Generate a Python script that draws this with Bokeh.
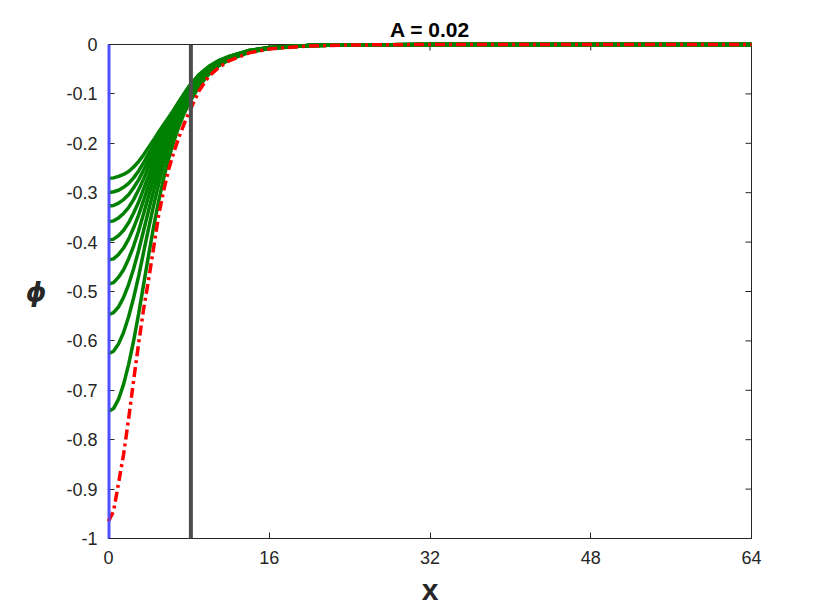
import math
from bokeh.plotting import figure
from bokeh.models import Range1d, FixedTicker, Span
from bokeh.embed import file_html
from bokeh.resources import INLINE

# ---- data ----
x = [0, 0.5, 1, 1.5, 2, 2.5, 3, 3.5, 4, 4.5, 5, 5.5, 6, 6.5, 7, 7.5, 8,
     9, 10, 11, 12, 14, 16, 20, 24, 32, 48, 64]

phi_g1 = [-0.271, -0.270, -0.267, -0.263, -0.257, -0.248, -0.237, -0.223, -0.208, -0.193, -0.177, -0.162, -0.147, -0.132, -0.116, -0.100, -0.085,
          -0.061, -0.044, -0.032, -0.024, -0.012, -0.006, -0.002, -0.001, 0, 0, 0]
phi_g2 = [-0.300, -0.298, -0.295, -0.289, -0.281, -0.270, -0.256, -0.239, -0.221, -0.204, -0.185, -0.169, -0.152, -0.136, -0.119, -0.103, -0.087,
          -0.062, -0.045, -0.033, -0.024, -0.012, -0.006, -0.002, -0.001, 0, 0, 0]
phi_g3 = [-0.327, -0.326, -0.321, -0.314, -0.304, -0.290, -0.274, -0.254, -0.234, -0.214, -0.194, -0.175, -0.157, -0.140, -0.122, -0.105, -0.089,
          -0.064, -0.046, -0.033, -0.025, -0.012, -0.006, -0.002, -0.001, 0, 0, 0]
phi_g4 = [-0.359, -0.357, -0.351, -0.342, -0.330, -0.314, -0.294, -0.272, -0.248, -0.226, -0.203, -0.182, -0.162, -0.144, -0.125, -0.108, -0.091,
          -0.065, -0.047, -0.034, -0.025, -0.013, -0.006, -0.002, -0.001, 0, 0, 0]
phi_g5 = [-0.396, -0.394, -0.387, -0.376, -0.361, -0.341, -0.319, -0.292, -0.266, -0.239, -0.214, -0.191, -0.169, -0.149, -0.129, -0.111, -0.094,
          -0.067, -0.048, -0.035, -0.026, -0.013, -0.007, -0.002, -0.001, 0, 0, 0]
phi_g6 = [-0.436, -0.434, -0.425, -0.412, -0.394, -0.371, -0.345, -0.315, -0.284, -0.254, -0.226, -0.200, -0.176, -0.154, -0.134, -0.114, -0.097,
          -0.069, -0.050, -0.036, -0.027, -0.013, -0.007, -0.002, -0.001, 0, 0, 0]
phi_g7 = [-0.485, -0.482, -0.471, -0.456, -0.434, -0.408, -0.377, -0.342, -0.306, -0.272, -0.240, -0.211, -0.185, -0.161, -0.139, -0.119, -0.100,
          -0.072, -0.051, -0.037, -0.027, -0.014, -0.007, -0.002, -0.001, 0, 0, 0]
phi_g8 = [-0.547, -0.543, -0.531, -0.512, -0.486, -0.454, -0.417, -0.376, -0.335, -0.295, -0.258, -0.225, -0.196, -0.169, -0.145, -0.124, -0.105,
          -0.075, -0.053, -0.038, -0.028, -0.014, -0.007, -0.002, -0.001, 0, 0, 0]
phi_g9 = [-0.626, -0.621, -0.606, -0.583, -0.551, -0.513, -0.469, -0.420, -0.371, -0.325, -0.282, -0.243, -0.209, -0.180, -0.154, -0.131, -0.111,
          -0.079, -0.056, -0.040, -0.029, -0.015, -0.008, -0.002, -0.001, 0, 0, 0]
phi_g10 = [-0.743, -0.737, -0.718, -0.688, -0.648, -0.600, -0.545, -0.485, -0.425, -0.368, -0.316, -0.270, -0.230, -0.196, -0.166, -0.141, -0.119,
           -0.085, -0.060, -0.043, -0.031, -0.016, -0.008, -0.002, -0.001, 0, 0, 0]
phi_red = [-0.965, -0.945, -0.888, -0.830, -0.758, -0.680, -0.605, -0.535, -0.475, -0.410, -0.345, -0.295, -0.252, -0.218, -0.188, -0.162, -0.138,
           -0.094, -0.064, -0.046, -0.033, -0.017, -0.009, -0.003, -0.001, 0, 0, 0]

x_ticks = [0, 16, 32, 48, 64]
y_ticks = [-1, -0.9, -0.8, -0.7, -0.6, -0.5, -0.4, -0.3, -0.2, -0.1, 0]
y_tick_labels = ["-1", "-0.9", "-0.8", "-0.7", "-0.6", "-0.5", "-0.4", "-0.3", "-0.2", "-0.1", "0"]
x_min, x_max = 0, 64
y_min, y_max = -1, 0
x_wall = 0
x_mark = 8.2
title_text = "A = 0.02"
x_label = "x"
y_label = "\u03d5"

green_curves = [phi_g1, phi_g2, phi_g3, phi_g4, phi_g5, phi_g6, phi_g7, phi_g8, phi_g9, phi_g10]

# ---- figure ----
AX = "#262626"
FONT = "Liberation Sans"
BLUE = "#5050ff"

p = figure(width=822, height=608, output_backend="svg", toolbar_location=None,
           x_range=Range1d(x_min, x_max), y_range=Range1d(y_min, y_max),
           min_border_left=108, min_border_right=71, min_border_top=44, min_border_bottom=63,
           x_axis_label=x_label, y_axis_label=y_label)
p.outline_line_color = AX
p.outline_line_width = 1
p.grid.visible = False
p.background_fill_color = "white"
p.border_fill_color = "white"

p.title.text = title_text
p.title.align = "center"
p.title.text_font = FONT
p.title.text_font_size = "21px"
p.title.text_font_style = "bold"
p.title.text_color = "black"
p.title.standoff = 7

def style_axis(ax):
    ax.axis_line_color = AX
    ax.axis_line_width = 1
    ax.major_tick_line_color = AX
    ax.major_tick_in = 6
    ax.major_tick_out = 0
    ax.minor_tick_in = 0
    ax.minor_tick_out = 0
    ax.major_label_text_color = AX
    ax.major_label_text_font = FONT
    ax.major_label_text_font_size = "18px"

xa = p.xaxis[0]
xa.ticker = FixedTicker(ticks=x_ticks)
style_axis(xa)
xa.major_label_standoff = 12
xa.axis_label_text_font = FONT
xa.axis_label_text_font_size = "30px"
xa.axis_label_text_font_style = "bold"
xa.axis_label_text_color = AX
xa.axis_label_standoff = 6

ya = p.yaxis[0]
ya.ticker = FixedTicker(ticks=y_ticks)
ya.major_label_overrides = dict(zip(y_ticks, y_tick_labels))
style_axis(ya)
ya.axis_line_color = BLUE
ya.axis_line_width = 2
ya.major_label_standoff = 11
ya.axis_label_text_font = "DejaVu Sans"
ya.axis_label_text_font_size = "26px"
ya.axis_label_text_font_style = "bold italic"
ya.axis_label_text_color = AX
ya.axis_label_standoff = 17
ya.axis_label_orientation = "horizontal"

# inward ticks on the top and right edges of the box
top_t = p.ray(x=x_ticks, y=[y_max] * len(x_ticks), length=6, length_units="screen",
              angle=-math.pi / 2, line_color=AX, line_width=1)
right_t = p.ray(x=[x_max] * len(y_ticks), y=y_ticks, length=6, length_units="screen",
                angle=math.pi, line_color=AX, line_width=1)

for g in green_curves:
    r = p.line(x, g, line_color="#008000", line_width=3.5)
    r.level = "overlay"
rr = p.line(x, phi_red, line_color="#ff0000", line_width=3.5, line_dash="10 4 3 4")
rr.level = "overlay"

p.add_layout(Span(location=x_wall, dimension="height", line_color=BLUE, line_width=4, level="overlay"))
p.add_layout(Span(location=x_mark, dimension="height", line_color="#4d4d4d", line_width=4, level="overlay"))

open("out.html", "w").write(file_html(p, INLINE))
